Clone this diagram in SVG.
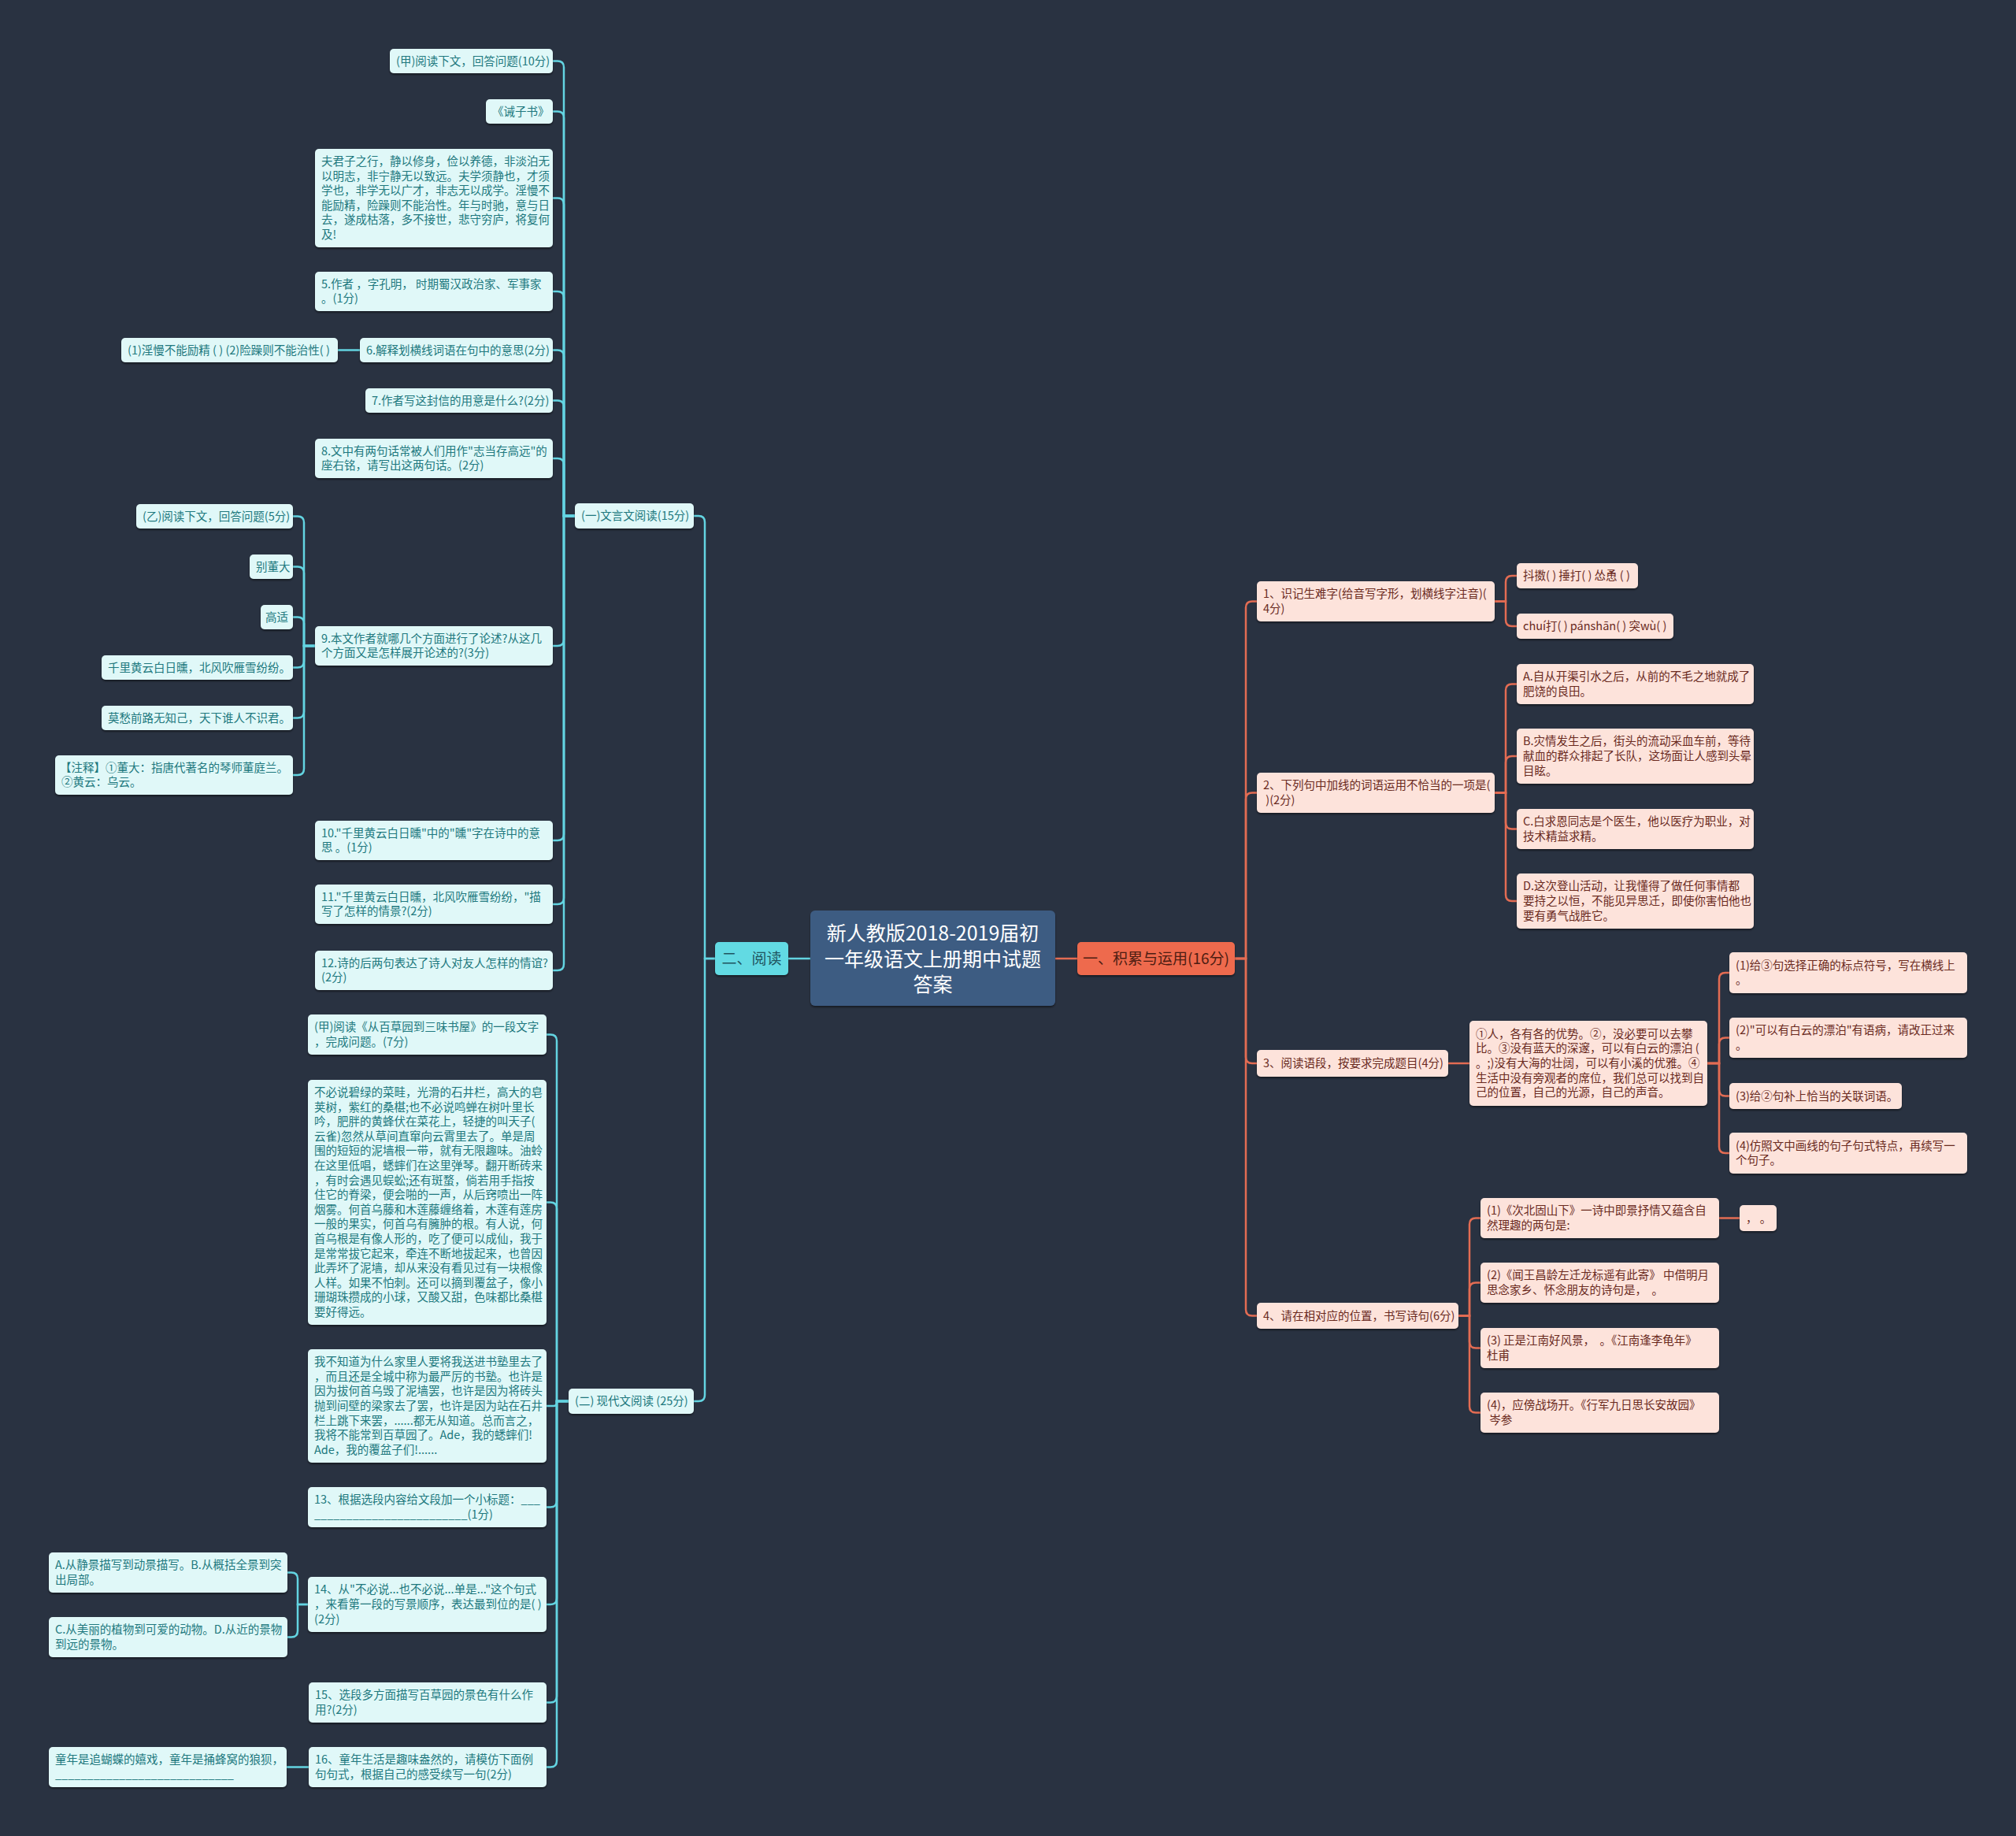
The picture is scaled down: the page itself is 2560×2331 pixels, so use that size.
<svg xmlns="http://www.w3.org/2000/svg" width="2560" height="2331" viewBox="0 0 2560 2331">
<defs>
<filter id="sh" x="-5%" y="-10%" width="110%" height="130%"><feDropShadow dx="0" dy="2" stdDeviation="1" flood-color="#000" flood-opacity="0.45"/></filter>
<style>
text{font-family:"Noto Sans CJK SC","Noto Sans",sans-serif;white-space:pre}
.t{font-size:14.5px}
.nc{fill:#e0f8f8;filter:url(#sh)}
.no{fill:#fde3db;filter:url(#sh)}
.tc{fill:#20787e}
.to{fill:#6a2a1e}
.lc{fill:none;stroke:#63d4e1;stroke-width:2.5}
.lo{fill:none;stroke:#e36c53;stroke-width:2.5}
</style>
</defs>
<rect width="2560" height="2331" fill="#293241"/>

<g id="connectors">
<g class="lc">
<path d="M1029,1217 H1001"/>
<path d="M908,1217 H895 V663 Q895,655 887,655 H881"/>
<path d="M908,1217 H895 V1771 Q895,1779 887,1779 H881"/>
<path d="M730,655 H716 V85.5 Q716,77.5 708,77.5 H702"/>
<path d="M730,655 H716 V149.5 Q716,141.5 708,141.5 H702"/>
<path d="M730,655 H716 V259.5 Q716,251.5 708,251.5 H702"/>
<path d="M730,655 H716 V378 Q716,370 708,370 H702"/>
<path d="M730,655 H716 V452.5 Q716,444.5 708,444.5 H702"/>
<path d="M730,655 H716 V516.5 Q716,508.5 708,508.5 H702"/>
<path d="M730,655 H716 V590 Q716,582 708,582 H702"/>
<path d="M730,655 H716 V812 Q716,820 708,820 H702"/>
<path d="M730,655 H716 V1059 Q716,1067 708,1067 H702"/>
<path d="M730,655 H716 V1140 Q716,1148 708,1148 H702"/>
<path d="M730,655 H716 V1224 Q716,1232 708,1232 H702"/>
<path d="M457,444.5 H429"/>
<path d="M400,820 H386 V663.5 Q386,655.5 378,655.5 H372"/>
<path d="M400,820 H386 V727.5 Q386,719.5 378,719.5 H372"/>
<path d="M400,820 H386 V791.5 Q386,783.5 378,783.5 H372"/>
<path d="M400,820 H386 V839.5 Q386,847.5 378,847.5 H372"/>
<path d="M400,820 H386 V903.5 Q386,911.5 378,911.5 H372"/>
<path d="M400,820 H386 V976 Q386,984 378,984 H372"/>
<path d="M722,1779 H707 V1321.5 Q707,1313.5 699,1313.5 H694"/>
<path d="M722,1779 H707 V1534.5 Q707,1526.5 699,1526.5 H694"/>
<path d="M722,1779 H707 V1781 Q707,1785 703,1785 H694"/>
<path d="M722,1779 H707 V1905.5 Q707,1913.5 699,1913.5 H694"/>
<path d="M722,1779 H707 V2029 Q707,2037 699,2037 H694"/>
<path d="M722,1779 H707 V2153.5 Q707,2161.5 699,2161.5 H694"/>
<path d="M722,1779 H707 V2235.5 Q707,2243.5 699,2243.5 H694"/>
<path d="M391,2037 H378 V2004.5 Q378,1996.5 370,1996.5 H365"/>
<path d="M391,2037 H378 V2070.5 Q378,2078.5 370,2078.5 H365"/>
<path d="M392,2243.5 H364"/>
</g>
<g class="lo">
<path d="M1340,1217 H1368"/>
<path d="M1568,1217 H1582 V771.5 Q1582,763.5 1590,763.5 H1596"/>
<path d="M1568,1217 H1582 V1014.5 Q1582,1006.5 1590,1006.5 H1596"/>
<path d="M1568,1217 H1582 V1342 Q1582,1350 1590,1350 H1596"/>
<path d="M1568,1217 H1582 V1662.5 Q1582,1670.5 1590,1670.5 H1596"/>
<path d="M1898,763.5 H1912 V739 Q1912,731 1920,731 H1926"/>
<path d="M1898,763.5 H1912 V787 Q1912,795 1920,795 H1926"/>
<path d="M1898,1006.5 H1912 V876.5 Q1912,868.5 1920,868.5 H1926"/>
<path d="M1898,1006.5 H1912 V968 Q1912,960 1920,960 H1926"/>
<path d="M1898,1006.5 H1912 V1044.5 Q1912,1052.5 1920,1052.5 H1926"/>
<path d="M1898,1006.5 H1912 V1136 Q1912,1144 1920,1144 H1926"/>
<path d="M1839,1350 H1866"/>
<path d="M2168,1350 H2183 V1243 Q2183,1235 2191,1235 H2196"/>
<path d="M2168,1350 H2183 V1325.5 Q2183,1317.5 2191,1317.5 H2196"/>
<path d="M2168,1350 H2183 V1383.5 Q2183,1391.5 2191,1391.5 H2196"/>
<path d="M2168,1350 H2183 V1456 Q2183,1464 2191,1464 H2196"/>
<path d="M1852,1670.5 H1866 V1554.5 Q1866,1546.5 1874,1546.5 H1880"/>
<path d="M1852,1670.5 H1866 V1636.5 Q1866,1628.5 1874,1628.5 H1880"/>
<path d="M1852,1670.5 H1866 V1703.5 Q1866,1711.5 1874,1711.5 H1880"/>
<path d="M1852,1670.5 H1866 V1785.5 Q1866,1793.5 1874,1793.5 H1880"/>
<path d="M2183,1546.5 H2209"/>
</g>
</g>

<g id="root"><rect x="1029" y="1156" width="311" height="121" rx="6" fill="#3e5b82" filter="url(#sh)"/>
<text x="1184.5" text-anchor="middle" font-size="25" fill="#ffffff"><tspan x="1184.5" y="1194">新人教版2018-2019届初</tspan><tspan x="1184.5" y="1227">一年级语文上册期中试题</tspan><tspan x="1184.5" y="1259">答案</tspan></text></g>

<g id="main-read"><rect x="908" y="1196" width="93" height="42" rx="5" fill="#62dae3" filter="url(#sh)"/>
<text x="954.5" y="1224" text-anchor="middle" font-size="19" fill="#1f5560">二、阅读</text></g>
<g id="main-use"><rect x="1368" y="1196" width="200" height="42" rx="5" fill="#ee6b4d" filter="url(#sh)"/>
<text x="1468" y="1224" text-anchor="middle" font-size="19" fill="#4d1d12">一、积累与运用(16分)</text></g>

<g id="n-classical"><rect class="nc" x="730" y="639" width="151" height="32" rx="5"/><text class="t tc" x="738" y="660">(一)文言文阅读(15分)</text></g>
<g id="n-modern"><rect class="nc" x="722" y="1763" width="159" height="32" rx="5"/><text class="t tc" x="730" y="1784">(二) 现代文阅读 (25分)</text></g>

<g id="a1"><rect class="nc" x="495" y="62" width="207" height="31" rx="5"/><text class="t tc" x="503" y="82.5">(甲)阅读下文，回答问题(10分)</text></g>
<g id="a2"><rect class="nc" x="617" y="126" width="85" height="31" rx="5"/><text class="t tc" x="625" y="146.5">《诫子书》</text></g>
<g id="a3"><rect class="nc" x="400" y="189" width="302" height="125" rx="5"/><text class="t tc"><tspan x="408" y="210">夫君子之行，静以修身，俭以养德，非淡泊无</tspan><tspan x="408" y="228.6">以明志，非宁静无以致远。夫学须静也，才须</tspan><tspan x="408" y="247.2">学也，非学无以广才，非志无以成学。淫慢不</tspan><tspan x="408" y="265.8">能励精，险躁则不能治性。年与时驰，意与日</tspan><tspan x="408" y="284.4">去，遂成枯落，多不接世，悲守穷庐，将复何</tspan><tspan x="408" y="303">及!</tspan></text></g>
<g id="a4"><rect class="nc" x="400" y="345" width="302" height="50" rx="5"/><text class="t tc"><tspan x="408" y="365.7">5.作者 ，字孔明， 时期蜀汉政治家、军事家</tspan><tspan x="408" y="384.3">。(1分)</tspan></text></g>
<g id="a5"><rect class="nc" x="457" y="429" width="245" height="31" rx="5"/><text class="t tc" x="465" y="449.5">6.解释划横线词语在句中的意思(2分)</text></g>
<g id="a5c"><rect class="nc" x="154" y="429" width="275" height="31" rx="5"/><text class="t tc" x="162" y="449.5">(1)淫慢不能励精 ( ) (2)险躁则不能治性( )</text></g>
<g id="a6"><rect class="nc" x="464" y="493" width="238" height="31" rx="5"/><text class="t tc" x="472" y="513.5">7.作者写这封信的用意是什么?(2分)</text></g>
<g id="a7"><rect class="nc" x="400" y="557" width="302" height="50" rx="5"/><text class="t tc"><tspan x="408" y="577.7">8.文中有两句话常被人们用作"志当存高远"的</tspan><tspan x="408" y="596.3">座右铭，请写出这两句话。(2分)</tspan></text></g>
<g id="a8"><rect class="nc" x="400" y="795" width="302" height="50" rx="5"/><text class="t tc"><tspan x="408" y="815.7">9.本文作者就哪几个方面进行了论述?从这几</tspan><tspan x="408" y="834.3">个方面又是怎样展开论述的?(3分)</tspan></text></g>
<g id="b1"><rect class="nc" x="173" y="640" width="199" height="31" rx="5"/><text class="t tc" x="181" y="660.5">(乙)阅读下文，回答问题(5分)</text></g>
<g id="b2"><rect class="nc" x="317" y="704" width="55" height="31" rx="5"/><text class="t tc" x="325" y="724.5">别董大</text></g>
<g id="b3"><rect class="nc" x="331" y="768" width="41" height="31" rx="5"/><text class="t tc" x="337" y="788.5">高适</text></g>
<g id="b4"><rect class="nc" x="129" y="832" width="243" height="31" rx="5"/><text class="t tc" x="137" y="852.5">千里黄云白日曛，北风吹雁雪纷纷。</text></g>
<g id="b5"><rect class="nc" x="129" y="896" width="243" height="31" rx="5"/><text class="t tc" x="137" y="916.5">莫愁前路无知己，天下谁人不识君。</text></g>
<g id="b6"><rect class="nc" x="70" y="959" width="302" height="50" rx="5"/><text class="t tc"><tspan x="76" y="979.7">【注释】①董大：指唐代著名的琴师董庭兰。</tspan><tspan x="78" y="998.3">②黄云：乌云。</tspan></text></g>
<g id="a9"><rect class="nc" x="400" y="1042" width="302" height="50" rx="5"/><text class="t tc"><tspan x="408" y="1062.7">10."千里黄云白日曛"中的"曛"字在诗中的意</tspan><tspan x="408" y="1081.3">思 。(1分)</tspan></text></g>
<g id="a10"><rect class="nc" x="400" y="1123" width="302" height="50" rx="5"/><text class="t tc"><tspan x="408" y="1143.7">11."千里黄云白日曛，北风吹雁雪纷纷，"描</tspan><tspan x="408" y="1162.3">写了怎样的情景?(2分)</tspan></text></g>
<g id="a11"><rect class="nc" x="400" y="1207" width="302" height="50" rx="5"/><text class="t tc"><tspan x="408" y="1227.7">12.诗的后两句表达了诗人对友人怎样的情谊?</tspan><tspan x="408" y="1246.3">(2分)</tspan></text></g>

<g id="c1"><rect class="nc" x="391" y="1288" width="303" height="51" rx="5"/><text class="t tc"><tspan x="399" y="1309.2">(甲)阅读《从百草园到三味书屋》的一段文字</tspan><tspan x="399" y="1327.8">，完成问题。(7分)</tspan></text></g>
<g id="c2"><rect class="nc" x="391" y="1371" width="303" height="311" rx="5"/><text class="t tc"><tspan x="399" y="1392">不必说碧绿的菜畦，光滑的石井栏，高大的皂</tspan><tspan x="399" y="1410.6">荚树，紫红的桑椹;也不必说鸣蝉在树叶里长</tspan><tspan x="399" y="1429.2">吟，肥胖的黄蜂伏在菜花上，轻捷的叫天子(</tspan><tspan x="399" y="1447.8">云雀)忽然从草间直窜向云霄里去了。单是周</tspan><tspan x="399" y="1466.4">围的短短的泥墙根一带，就有无限趣味。油蛉</tspan><tspan x="399" y="1485">在这里低唱，蟋蟀们在这里弹琴。翻开断砖来</tspan><tspan x="399" y="1503.6">，有时会遇见蜈蚣;还有斑蝥，倘若用手指按</tspan><tspan x="399" y="1522.2">住它的脊梁，便会啪的一声，从后窍喷出一阵</tspan><tspan x="399" y="1540.8">烟雾。何首乌藤和木莲藤缠络着，木莲有莲房</tspan><tspan x="399" y="1559.4">一般的果实，何首乌有臃肿的根。有人说，何</tspan><tspan x="399" y="1578">首乌根是有像人形的，吃了便可以成仙，我于</tspan><tspan x="399" y="1596.6">是常常拔它起来，牵连不断地拔起来，也曾因</tspan><tspan x="399" y="1615.2">此弄坏了泥墙，却从来没有看见过有一块根像</tspan><tspan x="399" y="1633.8">人样。如果不怕刺。还可以摘到覆盆子，像小</tspan><tspan x="399" y="1652.4">珊瑚珠攒成的小球，又酸又甜，色味都比桑椹</tspan><tspan x="399" y="1671">要好得远。</tspan></text></g>
<g id="c3"><rect class="nc" x="391" y="1713" width="303" height="144" rx="5"/><text class="t tc"><tspan x="399" y="1734.2">我不知道为什么家里人要将我送进书塾里去了</tspan><tspan x="399" y="1752.8">，而且还是全城中称为最严厉的书塾。也许是</tspan><tspan x="399" y="1771.4">因为拔何首乌毁了泥墙罢，也许是因为将砖头</tspan><tspan x="399" y="1790">抛到间壁的梁家去了罢，也许是因为站在石井</tspan><tspan x="399" y="1808.6">栏上跳下来罢，......都无从知道。总而言之，</tspan><tspan x="399" y="1827.2">我将不能常到百草园了。Ade，我的蟋蟀们!</tspan><tspan x="399" y="1845.8">Ade，我的覆盆子们!......</tspan></text></g>
<g id="c4"><rect class="nc" x="391" y="1888" width="303" height="51" rx="5"/><text class="t tc"><tspan x="399" y="1909.2">13、根据选段内容给文段加一个小标题：___</tspan><tspan x="399" y="1927.8">________________________(1分)</tspan></text></g>
<g id="c5"><rect class="nc" x="391" y="2002" width="303" height="70" rx="5"/><text class="t tc"><tspan x="399" y="2023.4">14、从"不必说...也不必说...单是..."这个句式</tspan><tspan x="399" y="2042">，来看第一段的写景顺序，表达最到位的是( )</tspan><tspan x="399" y="2060.6">(2分)</tspan></text></g>
<g id="d1"><rect class="nc" x="62" y="1971" width="303" height="51" rx="5"/><text class="t tc"><tspan x="70" y="1992.2">A.从静景描写到动景描写。B.从概括全景到突</tspan><tspan x="70" y="2010.8">出局部。</tspan></text></g>
<g id="d2"><rect class="nc" x="62" y="2053" width="303" height="51" rx="5"/><text class="t tc"><tspan x="70" y="2074.2">C.从美丽的植物到可爱的动物。D.从近的景物</tspan><tspan x="70" y="2092.8">到远的景物。</tspan></text></g>
<g id="c6"><rect class="nc" x="392" y="2136" width="302" height="51" rx="5"/><text class="t tc"><tspan x="400" y="2157.2">15、选段多方面描写百草园的景色有什么作</tspan><tspan x="400" y="2175.8">用?(2分)</tspan></text></g>
<g id="c7"><rect class="nc" x="392" y="2218" width="302" height="51" rx="5"/><text class="t tc"><tspan x="400" y="2239.2">16、童年生活是趣味盎然的，请模仿下面例</tspan><tspan x="400" y="2257.8">句句式，根据自己的感受续写一句(2分)</tspan></text></g>
<g id="d3"><rect class="nc" x="62" y="2218" width="302" height="51" rx="5"/><text class="t tc"><tspan x="70" y="2239.2">童年是追蝴蝶的嬉戏，童年是捅蜂窝的狼狈，</tspan><tspan x="70" y="2257.8">____________________________</tspan></text></g>

<g id="r1"><rect class="no" x="1596" y="738" width="302" height="51" rx="5"/><text class="t to"><tspan x="1604" y="759.2">1、识记生难字(给音写字形，划横线字注音)(</tspan><tspan x="1604" y="777.8">4分)</tspan></text></g>
<g id="r1a"><rect class="no" x="1926" y="715" width="154" height="32" rx="5"/><text class="t to" x="1934" y="736">抖擞( ) 捶打( ) 怂恿 ( )</text></g>
<g id="r1b"><rect class="no" x="1926" y="779" width="199" height="32" rx="5"/><text class="t to" x="1934" y="800">chuí打( ) pánshān( ) 突wù( )</text></g>
<g id="r2"><rect class="no" x="1596" y="981" width="302" height="51" rx="5"/><text class="t to"><tspan x="1604" y="1002.2">2、下列句中加线的词语运用不恰当的一项是(</tspan><tspan x="1604" y="1020.8"> )(2分)</tspan></text></g>
<g id="r2a"><rect class="no" x="1926" y="843" width="301" height="51" rx="5"/><text class="t to"><tspan x="1934" y="864.2">A.自从开渠引水之后，从前的不毛之地就成了</tspan><tspan x="1934" y="882.8">肥饶的良田。</tspan></text></g>
<g id="r2b"><rect class="no" x="1926" y="925" width="301" height="70" rx="5"/><text class="t to"><tspan x="1934" y="946.4">B.灾情发生之后，街头的流动采血车前，等待</tspan><tspan x="1934" y="965">献血的群众排起了长队，这场面让人感到头晕</tspan><tspan x="1934" y="983.6">目眩。</tspan></text></g>
<g id="r2c"><rect class="no" x="1926" y="1027" width="301" height="51" rx="5"/><text class="t to"><tspan x="1934" y="1048.2">C.白求恩同志是个医生，他以医疗为职业，对</tspan><tspan x="1934" y="1066.8">技术精益求精。</tspan></text></g>
<g id="r2d"><rect class="no" x="1926" y="1109" width="301" height="70" rx="5"/><text class="t to"><tspan x="1934" y="1130.4">D.这次登山活动，让我懂得了做任何事情都</tspan><tspan x="1934" y="1149">要持之以恒，不能见异思迁，即使你害怕他也</tspan><tspan x="1934" y="1167.6">要有勇气战胜它。</tspan></text></g>
<g id="r3"><rect class="no" x="1596" y="1333" width="243" height="34" rx="5"/><text class="t to" x="1604" y="1355">3、阅读语段，按要求完成题目(4分)</text></g>
<g id="r3c"><rect class="no" x="1866" y="1296" width="302" height="108" rx="5"/><text class="t to"><tspan x="1874" y="1317.8">①人，各有各的优势。②，没必要可以去攀</tspan><tspan x="1874" y="1336.4">比。③没有蓝天的深邃，可以有白云的漂泊 (</tspan><tspan x="1874" y="1355">。;)没有大海的壮阔，可以有小溪的优雅。④</tspan><tspan x="1874" y="1373.6">生活中没有旁观者的席位，我们总可以找到自</tspan><tspan x="1874" y="1392.2">己的位置，自己的光源，自己的声音。</tspan></text></g>
<g id="r3-1"><rect class="no" x="2196" y="1209" width="302" height="52" rx="5"/><text class="t to"><tspan x="2204" y="1230.7">(1)给③句选择正确的标点符号，写在横线上</tspan><tspan x="2204" y="1249.3">。</tspan></text></g>
<g id="r3-2"><rect class="no" x="2196" y="1292" width="302" height="51" rx="5"/><text class="t to"><tspan x="2204" y="1313.2">(2)"可以有白云的漂泊"有语病，请改正过来</tspan><tspan x="2204" y="1331.8">。</tspan></text></g>
<g id="r3-3"><rect class="no" x="2196" y="1375" width="219" height="33" rx="5"/><text class="t to" x="2204" y="1396.5">(3)给②句补上恰当的关联词语。</text></g>
<g id="r3-4"><rect class="no" x="2196" y="1438" width="302" height="52" rx="5"/><text class="t to"><tspan x="2204" y="1459.7">(4)仿照文中画线的句子句式特点，再续写一</tspan><tspan x="2204" y="1478.3">个句子。</tspan></text></g>
<g id="r4"><rect class="no" x="1596" y="1654" width="256" height="33" rx="5"/><text class="t to" x="1604" y="1675.5">4、请在相对应的位置，书写诗句(6分)</text></g>
<g id="r4-1"><rect class="no" x="1880" y="1521" width="303" height="51" rx="5"/><text class="t to"><tspan x="1888" y="1542.2">(1)《次北固山下》一诗中即景抒情又蕴含自</tspan><tspan x="1888" y="1560.8">然理趣的两句是:</tspan></text></g>
<g id="r4-1c"><rect class="no" x="2209" y="1530" width="47" height="33" rx="5"/><text class="t to" x="2217" y="1551.5">， 。</text></g>
<g id="r4-2"><rect class="no" x="1880" y="1603" width="303" height="51" rx="5"/><text class="t to"><tspan x="1888" y="1624.2">(2)《闻王昌龄左迁龙标遥有此寄》 中借明月</tspan><tspan x="1888" y="1642.8">思念家乡、怀念朋友的诗句是，  。</tspan></text></g>
<g id="r4-3"><rect class="no" x="1880" y="1686" width="303" height="51" rx="5"/><text class="t to"><tspan x="1888" y="1707.2">(3) 正是江南好风景，  。《江南逢李龟年》</tspan><tspan x="1888" y="1725.8">杜甫</tspan></text></g>
<g id="r4-4"><rect class="no" x="1880" y="1768" width="303" height="51" rx="5"/><text class="t to"><tspan x="1888" y="1789.2">(4)，应傍战场开。《行军九日思长安故园》</tspan><tspan x="1888" y="1807.8"> 岑参</tspan></text></g>
</svg>
